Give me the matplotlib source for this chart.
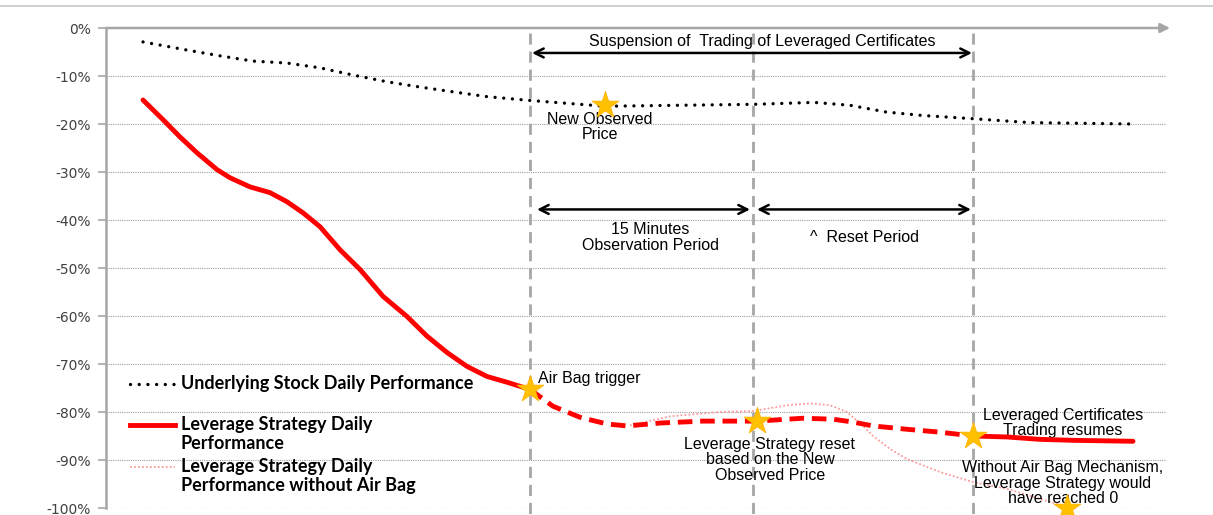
import matplotlib.pyplot as plt
from matplotlib.lines import Line2D

# time axis in arbitrary units, values in %
stock_t = [37, 81, 114, 147, 181, 214, 247, 281, 314, 347, 381, 424, 499, 574, 648, 708, 744, 780,
           815, 867, 923, 1026]
stock_v = [-2.9, -4.6, -5.8, -6.9, -7.3, -8.3, -9.8, -11.2, -12.3, -13.3, -14.3, -15.1, -16.3, -16.1,
           -15.9, -15.5, -16.1, -17.5, -18.2, -18.9, -19.7, -20.0]

lev_t = [37, 57, 74, 91, 111, 124, 144, 164, 181, 197, 214, 234, 254, 277, 301, 321, 341, 361, 381,
         401, 424]
lev_v = [-15.0, -19.1, -22.7, -26.0, -29.5, -31.2, -33.1, -34.3, -36.2, -38.5, -41.4, -46.2, -50.3,
         -55.9, -60.1, -64.2, -67.6, -70.5, -72.6, -73.8, -75.3]

airbag_t = [424, 447, 474, 501, 521, 554, 597, 651, 697, 727, 747, 767, 801, 834, 867]
airbag_v = [-75.3, -78.8, -81.1, -82.5, -82.9, -82.3, -81.9, -81.9, -81.3, -81.5, -82.1, -82.9,
            -83.6, -84.2, -85.0]

resume_t = [867, 901, 934, 967, 1027]
resume_v = [-85.0, -85.2, -85.7, -85.9, -86.1]

noab_t = [524, 564, 614, 647, 681, 704, 724, 741, 757, 767, 784, 801, 834, 867, 901, 934, 961]
noab_v = [-82.8, -80.9, -80.0, -79.8, -78.6, -78.2, -78.6, -80.0, -82.9, -85.0, -87.7, -89.8, -92.5,
          -94.6, -96.0, -98.1, -99.8]

star_t = [424, 499, 651, 867, 961]
star_v = [-75.3, -16.0, -81.9, -85.0, -100.0]

event_t = [424, 647, 867]
yticks = [0, -10, -20, -30, -40, -50, -60, -70, -80, -90, -100]

fig = plt.figure(figsize=(12.13, 5.15), dpi=100)
ax = fig.add_axes([106 / 1213, 1 - 508 / 515, 1064 / 1213, 480 / 515])
ax.set_xlim(0, 1064)
ax.set_ylim(-100, 0)

for v in yticks[1:]:
    ax.axhline(v, xmax=0.995, color='#A0A0A0', lw=0.8, ls=(0, (1, 1)), zorder=1)

for s in ['top', 'right', 'bottom']:
    ax.spines[s].set_visible(False)
ax.spines['left'].set_color('#A6A6A6')
ax.spines['left'].set_linewidth(1.8)
ax.set_xticks([])
ax.set_yticks(yticks)
ax.set_yticklabels([f'{v}%' for v in yticks], fontsize=10, color='#404040', family='DejaVu Sans')
ax.tick_params(axis='y', length=6, width=1.2, color='#A6A6A6', pad=5)

# top axis arrow
ax.annotate('', xy=(1.0, 1.0), xytext=(0, 1.0), xycoords='axes fraction',
            arrowprops=dict(arrowstyle='-|>', color='#A6A6A6', lw=1.8, mutation_scale=14,
                            shrinkA=0, shrinkB=0), annotation_clip=False)

for t in event_t:
    ax.plot([t, t], [-1, -103], color='#A6A6A6', lw=2, ls=(0, (4, 2.5)), clip_on=False, zorder=2)

ax.plot(stock_t, stock_v, color='black', lw=2.4, ls=(0, (0.01, 2.6)), dash_capstyle='round', zorder=4)
ax.plot(noab_t, noab_v, color='#FF9A9A', lw=1.3, ls=(0, (1, 1.2)), zorder=3)
ax.plot(lev_t, lev_v, color='#FF0000', lw=3.5, solid_capstyle='round', solid_joinstyle='round', zorder=5)
ax.plot(airbag_t, airbag_v, color='#FF0000', lw=3.5, ls=(0, (3, 1.6)), zorder=5)
ax.plot(resume_t, resume_v, color='#FF0000', lw=3.5, solid_capstyle='round', solid_joinstyle='round',
        zorder=5)
ax.scatter(star_t, star_v, marker='*', s=420, color='#FFC000', edgecolor='#FFB000', lw=0.5,
           zorder=6, clip_on=False)

# period arrows
arrow = dict(arrowstyle='<->', color='black', lw=1.8, mutation_scale=16, shrinkA=0, shrinkB=0)
ax.annotate('', xy=(426, -5.2), xytext=(866, -5.2), arrowprops=arrow)
ax.annotate('', xy=(431, -37.8), xytext=(644, -37.8), arrowprops=arrow)
ax.annotate('', xy=(651, -37.8), xytext=(865, -37.8), arrowprops=arrow)

txt = dict(fontsize=11.5, family='Liberation Sans', color='black', linespacing=1.05)
ax.text(656, -2.9, 'Suspension of  Trading of Leveraged Certificates', ha='center', va='center', **txt)
ax.text(544, -43.6, '15 Minutes\nObservation Period', ha='center', va='center', **txt)
ax.text(759, -43.7, '^  Reset Period', ha='center', va='center', **txt)
ax.text(494, -20.6, 'New Observed\nPrice', ha='center', va='center', **txt)
ax.text(432, -73.0, 'Air Bag trigger', ha='left', va='center', **txt)
ax.text(664, -90.0, 'Leverage Strategy reset\nbased on the New\nObserved Price', ha='center', va='center', **txt)
ax.text(957, -82.3, 'Leveraged Certificates\nTrading resumes', ha='center', va='center', **txt)
ax.text(957, -94.8, 'Without Air Bag Mechanism,\nLeverage Strategy would\nhave reached 0',
        ha='center', va='center', **txt)

# legend drawn by hand
leg = dict(fontsize=13, family='Lato', weight='bold', color='black', va='center', ha='left',
           linespacing=1.1, transform=ax.transAxes)
def ax_x(px):
    return (px - 106) / 1064
def ax_y(py):
    return (508 - py) / 480
ax.add_line(Line2D([ax_x(130), ax_x(175)], [ax_y(384)] * 2, transform=ax.transAxes, color='black',
                   lw=2.4, ls=(0, (0.01, 2.6)), dash_capstyle='round'))
ax.text(ax_x(181), ax_y(384), 'Underlying Stock Daily Performance', **leg)
ax.add_line(Line2D([ax_x(130), ax_x(175)], [ax_y(425)] * 2, transform=ax.transAxes, color='#FF0000',
                   lw=3.5))
ax.text(ax_x(181), ax_y(434), 'Leverage Strategy Daily\nPerformance', **leg)
ax.add_line(Line2D([ax_x(130), ax_x(175)], [ax_y(467)] * 2, transform=ax.transAxes, color='#FF9A9A',
                   lw=1.3, ls=(0, (1, 1.2))))
ax.text(ax_x(181), ax_y(476), 'Leverage Strategy Daily\nPerformance without Air Bag', **leg)

fig.add_artist(Line2D([0, 1], [1 - 6 / 515] * 2, color='#C8C8C8', lw=1.2))

fig.savefig('out.png', dpi=100)
